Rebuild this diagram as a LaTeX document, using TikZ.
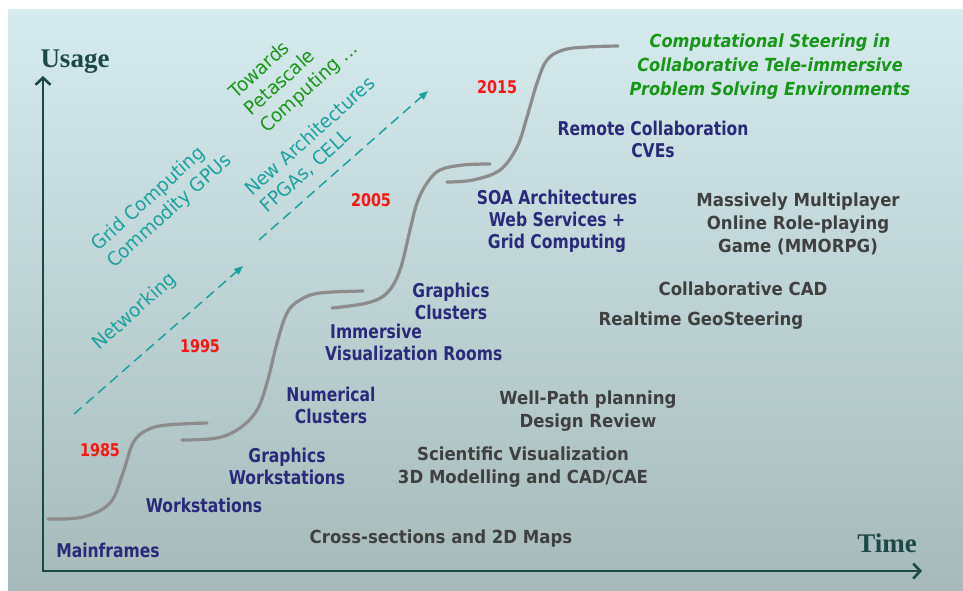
\documentclass[tikz,border=0pt]{standalone}
\usepackage{fontspec}
\usetikzlibrary{arrows.meta}
\newfontfamily\labfont[FakeStretch=0.82]{DejaVu Sans}
\newfontfamily\greyfont[FakeStretch=0.92]{DejaVu Sans}
\newfontfamily\greenfont[FakeStretch=0.9]{DejaVu Sans}
\newfontfamily\rotfont[FakeStretch=0.96]{DejaVu Sans}
\newfontfamily\serfont{Liberation Serif}
\definecolor{navyc}{RGB}{42,42,122}
\definecolor{greyc}{RGB}{64,64,64}
\definecolor{redc}{RGB}{255,20,20}
\definecolor{greenc}{RGB}{24,150,24}
\definecolor{tealc}{RGB}{28,160,160}
\definecolor{axisc}{RGB}{28,72,72}
\definecolor{curvec}{RGB}{140,140,140}
\definecolor{bgtop}{RGB}{213,235,238}
\definecolor{bgbot}{RGB}{166,186,186}
\begin{document}
\begin{tikzpicture}[x=1pt,y=-1pt,
  navy/.style={text=navyc, font={\labfont\bfseries\fontsize{19}{22}\selectfont}, align=center, inner sep=0pt},
  greytxt/.style={text=greyc, font={\greyfont\bfseries\fontsize{18}{23}\selectfont}, align=center, inner sep=0pt},
  year/.style={text=redc, font={\labfont\bfseries\fontsize{17.5}{20}\selectfont}, inner sep=0pt},
  greenit/.style={text=greenc, font={\greenfont\bfseries\itshape\fontsize{18}{24}\selectfont}, align=center, inner sep=0pt},
  rottxt/.style={font={\rotfont\fontsize{19}{23}\selectfont}, align=left, inner sep=0pt, rotate=42},
  axislab/.style={text=axisc, font={\serfont\bfseries\fontsize{27}{30}\selectfont}, inner sep=0pt},
  axis/.style={draw=axisc, line width=2.6pt, {Straight Barb[length=7pt,width=15pt]}-{Straight Barb[length=7pt,width=15pt]}},
  stepcurve/.style={draw=curvec, line width=3.2pt, line cap=round},
  trend/.style={draw=tealc, line width=1.5pt, dash pattern=on 10pt off 6pt, -{Triangle[length=9pt,width=7pt]}}
]
% background
\useasboundingbox (0,0) rectangle (963,590);
\fill[white] (0,0) rectangle (963,590);
\shade[top color=bgtop, bottom color=bgbot] (8,9) rectangle (963,590);

% axes
\coordinate (o) at (43,571);
\coordinate (ytip) at (43,76);
\coordinate (xtip) at (922,571);
\draw[axis] (ytip) -- (o) -- (xtip);
\node[axislab] (usage) at (75,62) {Usage};
\node[axislab] (time) at (887,543) {Time};

% step curves
\draw[stepcurve] plot[smooth, tension=0.6] coordinates {(48,519) (83,517) (110,503) (123,473) (133,443) (147,430) (167,425) (207,423)};
\draw[stepcurve] plot[smooth, tension=0.6] coordinates {(182,440) (217,438) (240,428) (257,410) (267,383) (277,343) (287,313) (300,300) (320,293) (363,291)};
\draw[stepcurve] plot[smooth, tension=0.6] coordinates {(332,308) (367,303) (387,293) (400,270) (410,230) (417,203) (427,183) (440,170) (463,165) (490,164)};
\draw[stepcurve] plot[smooth, tension=0.6] coordinates {(447,182) (473,180) (500,170) (517,147) (527,117) (537,83) (547,60) (563,50) (587,47) (618,46)};

% trend arrows
\coordinate (t1s) at (74,414);
\coordinate (t1e) at (243,266);
\coordinate (t2s) at (259,240);
\coordinate (t2e) at (428,91);
\draw[trend] (t1s) -- (t1e);
\draw[trend] (t2s) -- (t2e);

% rotated labels
\node[rottxt, text=tealc] (netw) at (135,312) {Networking};
\node[rottxt, text=tealc] (grid) at (162,203) {Grid Computing\\Commodity GPUs};
\node[rottxt, text=tealc] (newarch) at (318,145) {New Architectures\\FPGAs, CELL};
\node[rottxt, text=greenc] (peta) at (294,71) {Towards\\Petascale\\Computing ...};

% years
\node[year] (y1985) at (100,450) {1985};
\node[year] (y1995) at (200,346) {1995};
\node[year] (y2005) at (371,200) {2005};
\node[year] (y2015) at (497,87) {2015};

% navy labels
\node[navy] (mainf) at (108,550) {Mainframes};
\node[navy] (works) at (204,505) {Workstations};
\node[navy] (gws) at (287,466) {Graphics\\Workstations};
\node[navy] (numc) at (331,405) {Numerical\\Clusters};
\node[navy, align=left, anchor=west] (ivr) at (325,342) {\hspace*{5pt}Immersive\\Visualization Rooms};
\node[navy] (gcl) at (451,301) {Graphics\\Clusters};
\node[navy] (soa) at (557,221) {SOA Architectures\\Web Services +\\Grid Computing};
\node[navy] (remote) at (653,139) {Remote Collaboration\\CVEs};

% grey labels
\node[greytxt] (cross) at (441,539) {Cross-sections and 2D Maps};
\node[greytxt] (scivis) at (523,467) {Scientific Visualization\\3D Modelling and CAD/CAE};
\node[greytxt] (well) at (588,411) {Well-Path planning\\Design Review};
\node[greytxt] (geo) at (701,321) {Realtime GeoSteering};
\node[greytxt] (colcad) at (743,289) {Collaborative CAD};
\node[greytxt] (mmo) at (798,224) {Massively Multiplayer\\Online Role-playing\\Game (MMORPG)};

% green label
\node[greenit] (steer) at (770,67) {Computational Steering in\\Collaborative Tele-immersive\\Problem Solving Environments};
\end{tikzpicture}
\end{document}
